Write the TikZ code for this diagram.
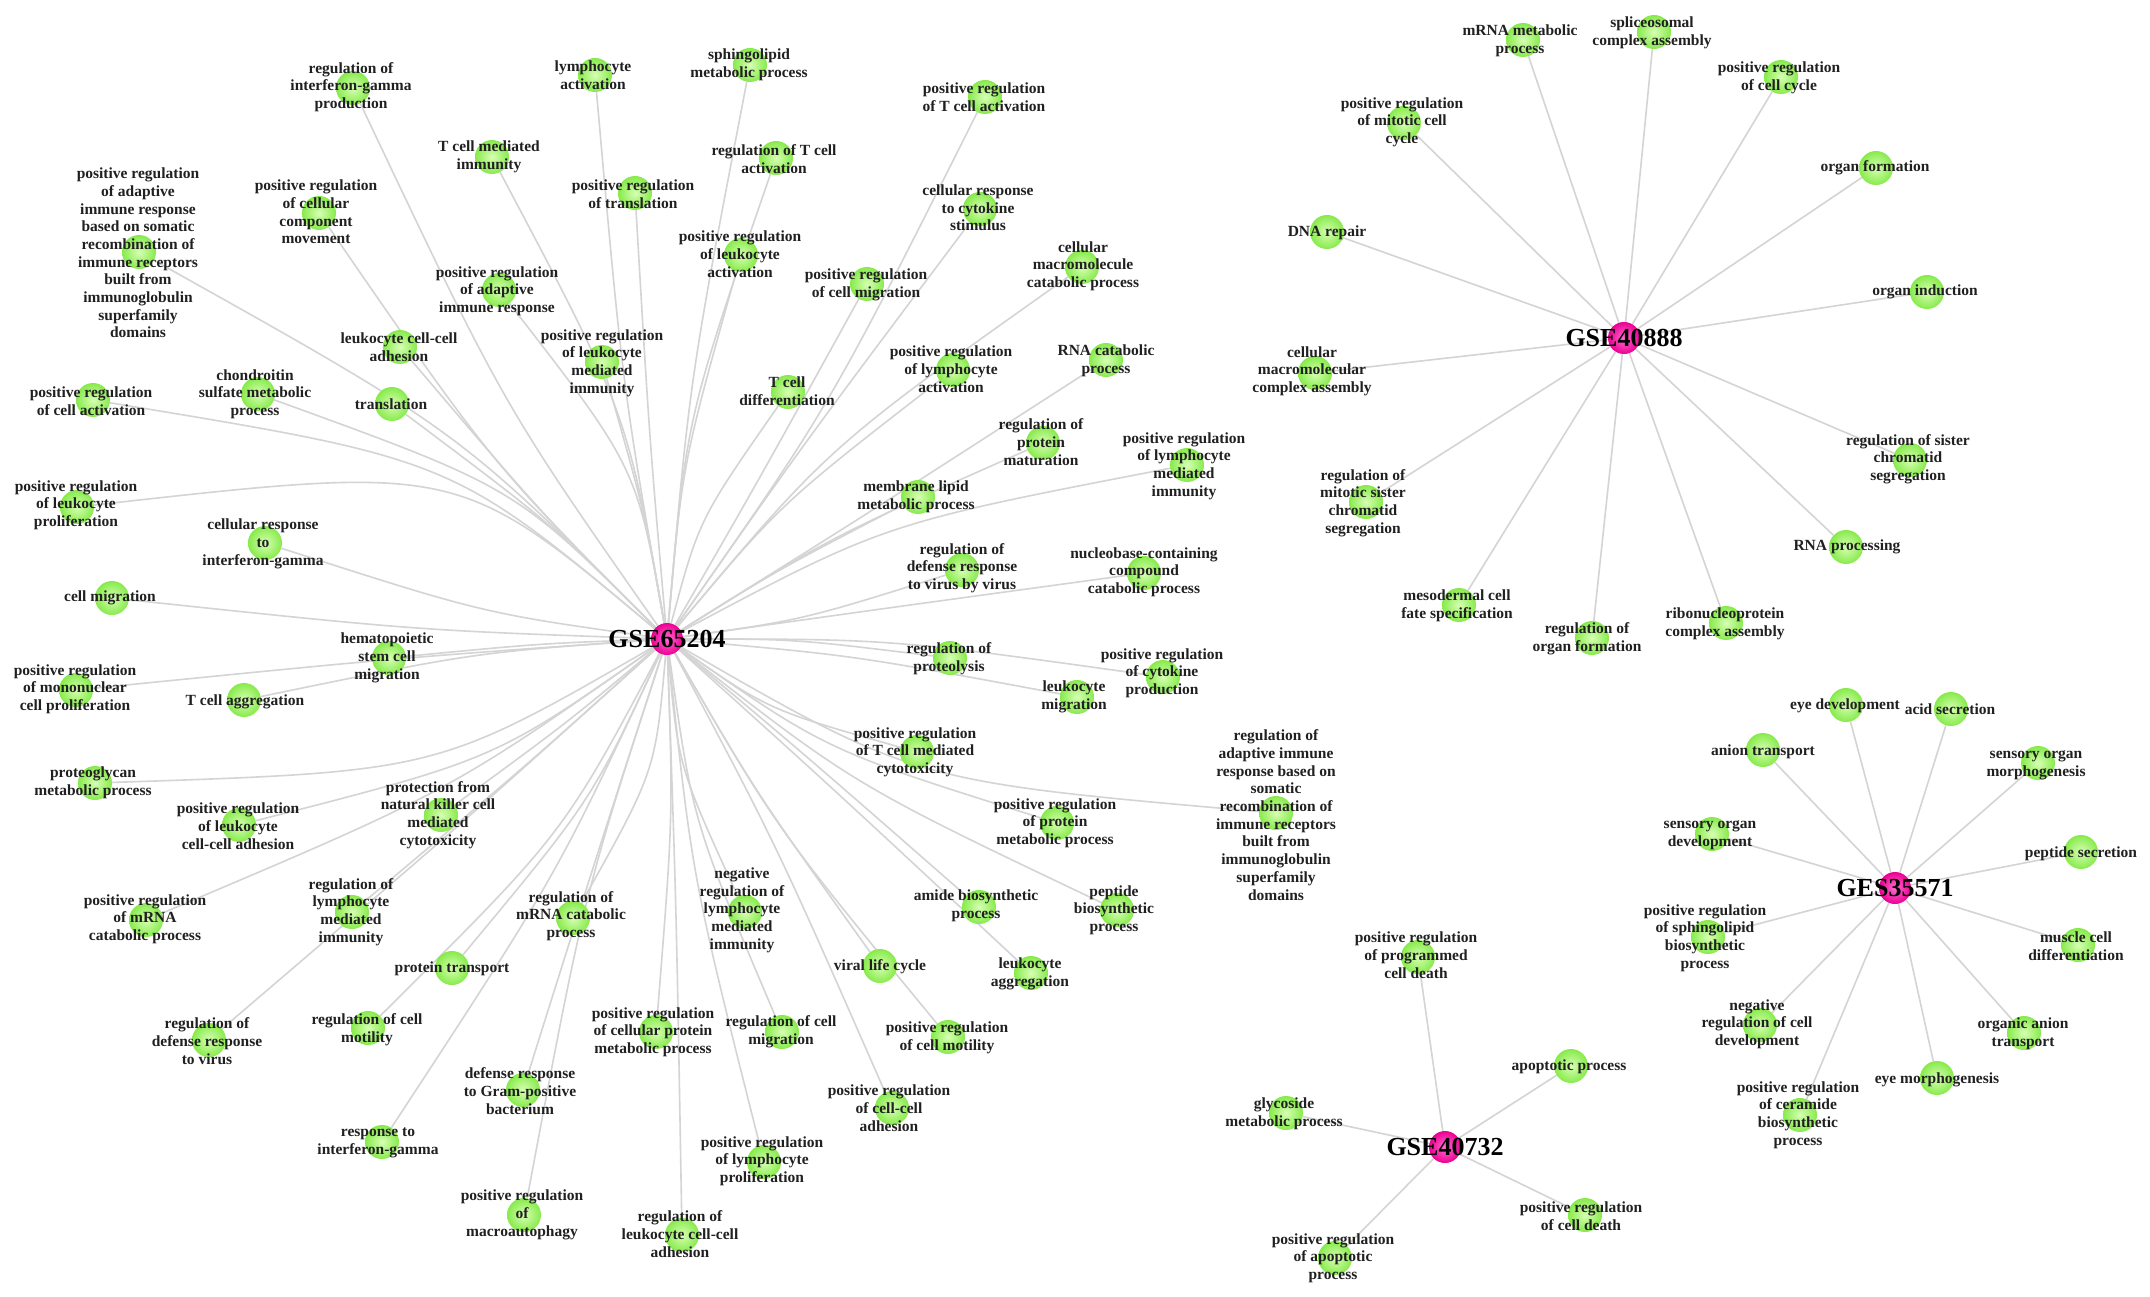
\documentclass[tikz,border=0pt]{standalone}
\usepackage{fontspec}
\setmainfont{Liberation Serif}
\usetikzlibrary{calc}
\pgfdeclarelayer{background}
\pgfdeclarelayer{foreground}
\pgfsetlayers{background,main,foreground}
\definecolor{edgec}{RGB}{212,212,212}
\definecolor{txtc}{RGB}{32,32,32}
\definecolor{gin}{RGB}{215,255,180}
\definecolor{gout}{RGB}{135,234,75}
\definecolor{pin}{RGB}{255,110,210}
\definecolor{pout}{RGB}{235,0,145}
\tikzset{
 term/.style={circle, minimum size=34pt, inner sep=0pt, draw=none, inner color=gin, outer color=gout},
 hubnode/.style={circle, minimum size=32pt, inner sep=0pt, draw=none, inner color=pin, outer color=pout},
 lab/.style={align=center, inner sep=0pt, text=txtc, font=\fontsize{15.5}{17.7}\selectfont\bfseries},
 hublab/.style={inner sep=0pt, text=black, font=\fontsize{26}{30}\selectfont\bfseries},
 gline/.style={draw=edgec, line width=1.6pt}
}
\newcommand\goterm[6]{\node[term] (#1) at (#2,#3) {};
 \begin{pgfonlayer}{foreground}\node[lab] (#1-t) at (#4,#5) {#6};\end{pgfonlayer}}
\newcommand\gohub[4]{\node[hubnode] (#1) at (#2,#3) {};
 \begin{pgfonlayer}{foreground}\node[hublab] (#1-t) at (#2,#3) {#4};\end{pgfonlayer}}
\begin{document}
\begin{tikzpicture}[x=1pt,y=-1pt]
\useasboundingbox (0,0) rectangle (2150,1297);
% hubs
\gohub{H1}{667}{639}{GSE65204}
\gohub{H2}{1624}{338}{GSE40888}
\gohub{H3}{1895}{888}{GES35571}
\gohub{H4}{1445}{1147}{GSE40732}
% GSE65204 terms
\goterm{ifng}{353}{88}{351}{87}{regulation of\\interferon-gamma\\production}
\goterm{lymact}{595}{75}{593}{75}{lymphocyte\\activation}
\goterm{sphingo}{750}{65}{749}{65}{sphingolipid\\metabolic process}
\goterm{prTact}{985}{97}{984}{97}{positive regulation\\of T cell activation}
\goterm{Tmed}{492}{157}{489}{157}{T cell mediated\\immunity}
\goterm{regTact}{776}{158}{774}{159}{regulation of T cell\\activation}
\goterm{pradsom}{139}{252}{138}{253}{positive regulation\\of adaptive\\immune response\\based on somatic\\recombination of\\immune receptors\\built from\\immunoglobulin\\superfamily\\domains}
\goterm{prccm}{319}{213}{316}{212}{positive regulation\\of cellular\\component\\movement}
\goterm{prtransl}{635}{193}{633}{194}{positive regulation\\of translation}
\goterm{cytostim}{980}{209}{978}{208}{cellular response\\to cytokine\\stimulus}
\goterm{prleukact}{741}{255}{740}{254}{positive regulation\\of leukocyte\\activation}
\goterm{macrocat}{1082}{267}{1083}{266}{cellular\\macromolecule\\catabolic process}
\goterm{prcellmig}{867}{284}{866}{285}{positive regulation\\of cell migration}
\goterm{pradapt}{499}{290}{497}{291}{positive regulation\\of adaptive\\immune response}
\goterm{leukcc}{400}{347}{399}{347}{leukocyte cell-cell\\adhesion}
\goterm{prleukmed}{602}{362}{602}{363}{positive regulation\\of leukocyte\\mediated\\immunity}
\goterm{prlymact}{953}{370}{951}{369}{positive regulation\\of lymphocyte\\activation}
\goterm{rnacat}{1106}{360}{1106}{361}{RNA catabolic\\process}
\goterm{prcellact}{93}{400}{91}{401}{positive regulation\\of cell activation}
\goterm{chondro}{258}{394}{255}{394}{chondroitin\\sulfate metabolic\\process}
\goterm{transl}{392}{404}{391}{404}{translation}
\goterm{Tdiff}{788}{392}{787}{391}{T cell\\differentiation}
\goterm{protmat}{1043}{443}{1041}{442}{regulation of\\protein\\maturation}
\goterm{prlymmed}{1187}{465}{1184}{466}{positive regulation\\of lymphocyte\\mediated\\immunity}
\goterm{prleukprol}{77}{507}{76}{505}{positive regulation\\of leukocyte\\proliferation}
\goterm{memlipid}{918}{497}{916}{497}{membrane lipid\\metabolic process}
\goterm{crifng}{265}{543}{263}{544}{cellular response\\to\\interferon-gamma}
\goterm{defvv}{962}{570}{962}{568}{regulation of\\defense response\\to virus by virus}
\goterm{nucleo}{1144}{573}{1144}{572}{nucleobase-containing\\compound\\catabolic process}
\goterm{cellmig}{112}{598}{110}{598}{cell migration}
\goterm{hemato}{389}{658}{387}{658}{hematopoietic\\stem cell\\migration}
\goterm{proteol}{950}{658}{949}{659}{regulation of\\proteolysis}
\goterm{prcyto}{1163}{677}{1162}{673}{positive regulation\\of cytokine\\production}
\goterm{prmono}{76}{690}{75}{689}{positive regulation\\of mononuclear\\cell proliferation}
\goterm{Tagg}{244}{700}{245}{702}{T cell aggregation}
\goterm{leukmig}{1077}{697}{1074}{697}{leukocyte\\migration}
\goterm{prTcyto}{917}{752}{915}{752}{positive regulation\\of T cell mediated\\cytotoxicity}
\goterm{regadsom}{1276}{813}{1276}{815}{regulation of\\adaptive immune\\response based on\\somatic\\recombination of\\immune receptors\\built from\\immunoglobulin\\superfamily\\domains}
\goterm{proteogly}{95}{783}{93}{783}{proteoglycan\\metabolic process}
\goterm{nkprot}{441}{815}{438}{815}{protection from\\natural killer cell\\mediated\\cytotoxicity}
\goterm{prleukcc}{239}{825}{238}{826}{positive regulation\\of leukocyte\\cell-cell adhesion}
\goterm{prprotmet}{1057}{823}{1055}{823}{positive regulation\\of protein\\metabolic process}
\goterm{prmrnacat}{146}{920}{145}{919}{positive regulation\\of mRNA\\catabolic process}
\goterm{reglymmed}{352}{912}{351}{912}{regulation of\\lymphocyte\\mediated\\immunity}
\goterm{regmrnacat}{573}{918}{571}{916}{regulation of\\mRNA catabolic\\process}
\goterm{neglymmed}{745}{912}{742}{910}{negative\\regulation of\\lymphocyte\\mediated\\immunity}
\goterm{amide}{979}{907}{976}{906}{amide biosynthetic\\process}
\goterm{peptbio}{1117}{910}{1114}{910}{peptide\\biosynthetic\\process}
\goterm{prottr}{452}{968}{452}{969}{protein transport}
\goterm{viral}{880}{966}{880}{967}{viral life cycle}
\goterm{leukagg}{1031}{973}{1030}{974}{leukocyte\\aggregation}
\goterm{regdefvir}{209}{1040}{207}{1041}{regulation of\\defense response\\to virus}
\goterm{regcellmot}{368}{1028}{367}{1030}{regulation of cell\\motility}
\goterm{prcellprot}{656}{1032}{653}{1032}{positive regulation\\of cellular protein\\metabolic process}
\goterm{regcellmig}{782}{1032}{781}{1032}{regulation of cell\\migration}
\goterm{prcellmot}{948}{1037}{947}{1038}{positive regulation\\of cell motility}
\goterm{gram}{523}{1090}{520}{1091}{defense response\\to Gram-positive\\bacterium}
\goterm{prcellcell}{892}{1108}{889}{1108}{positive regulation\\of cell-cell\\adhesion}
\goterm{respifng}{382}{1142}{378}{1143}{response to\\interferon-gamma}
\goterm{prlymprol}{764}{1162}{762}{1161}{positive regulation\\of lymphocyte\\proliferation}
\goterm{macroauto}{524}{1215}{522}{1215}{positive regulation\\of\\macroautophagy}
\goterm{regleukcc}{682}{1235}{680}{1234}{regulation of\\leukocyte cell-cell\\adhesion}
% GSE40888 terms
\goterm{mrnamet}{1523}{40}{1520}{41}{mRNA metabolic\\process}
\goterm{splice}{1654}{32}{1652}{33}{spliceosomal\\complex assembly}
\goterm{prcellcyc}{1781}{77}{1779}{78}{positive regulation\\of cell cycle}
\goterm{prmitotic}{1404}{123}{1402}{122}{positive regulation\\of mitotic cell\\cycle}
\goterm{organform}{1876}{168}{1875}{168}{organ formation}
\goterm{dnarep}{1327}{232}{1327}{233}{DNA repair}
\goterm{organind}{1927}{292}{1925}{292}{organ induction}
\goterm{cmca}{1315}{373}{1312}{371}{cellular\\macromolecular\\complex assembly}
\goterm{regsister}{1910}{460}{1908}{459}{regulation of sister\\chromatid\\segregation}
\goterm{regmitsis}{1366}{502}{1363}{503}{regulation of\\mitotic sister\\chromatid\\segregation}
\goterm{rnaproc}{1846}{547}{1847}{547}{RNA processing}
\goterm{mesoderm}{1459}{605}{1457}{606}{mesodermal cell\\fate specification}
\goterm{ribonuc}{1726}{623}{1725}{624}{ribonucleoprotein\\complex assembly}
\goterm{regorgan}{1592}{638}{1587}{639}{regulation of\\organ formation}
% GES35571 terms
\goterm{eyedev}{1846}{705}{1845}{706}{eye development}
\goterm{acidsec}{1951}{709}{1950}{709}{acid secretion}
\goterm{aniontr}{1763}{750}{1763}{752}{anion transport}
\goterm{sensmorph}{2038}{763}{2036}{765}{sensory organ\\morphogenesis}
\goterm{sensdev}{1712}{834}{1710}{835}{sensory organ\\development}
\goterm{peptsec}{2081}{852}{2081}{854}{peptide secretion}
\goterm{prsphbio}{1708}{937}{1705}{938}{positive regulation\\of sphingolipid\\biosynthetic\\process}
\goterm{muscle}{2078}{945}{2076}{946}{muscle cell\\differentiation}
\goterm{negcelldev}{1760}{1025}{1757}{1024}{negative\\regulation of cell\\development}
\goterm{organanion}{2024}{1033}{2023}{1034}{organic anion\\transport}
\goterm{eyemorph}{1937}{1078}{1937}{1080}{eye morphogenesis}
\goterm{prceramide}{1800}{1115}{1798}{1115}{positive regulation\\of ceramide\\biosynthetic\\process}
% GSE40732 terms
\goterm{prprogdeath}{1418}{957}{1416}{955}{positive regulation\\of programmed\\cell death}
\goterm{apopt}{1571}{1066}{1569}{1067}{apoptotic process}
\goterm{glycoside}{1286}{1113}{1284}{1114}{glycoside\\metabolic process}
\goterm{prcelldeath}{1585}{1215}{1581}{1216}{positive regulation\\of cell death}
\goterm{prapopt}{1335}{1258}{1333}{1258}{positive regulation\\of apoptotic\\process}
% edges and background
\begin{pgfonlayer}{background}
\fill[white] (0,0) rectangle (2150,1297);
\foreach \tgt/\ang in {ifng/125,pradsom/135,prccm/135,leukcc/135,chondro/135,transl/135,prcellact/140,prleukprol/140,
  Tmed/100,lymact/100,pradapt/100,prleukmed/100,prtransl/95,sphingo/85,regTact/85,prleukact/85,Tdiff/75,
  prTact/55,cytostim/55,prcellmig/60,prlymact/50,macrocat/50,
  rnacat/32,protmat/32,prlymmed/28,memlipid/32,
  defvv/8,nucleo/8,proteol/0,prcyto/0,leukmig/-5,
  prTcyto/-35,regadsom/-30,prprotmet/-35,amide/-40,peptbio/-38,leukagg/-42,
  viral/-60,prcellmot/-60,prcellcell/-62,
  regmrnacat/-95,neglymmed/-85,prcellprot/-88,regcellmig/-82,prlymprol/-84,regleukcc/-88,
  nkprot/-140,prleukcc/-145,proteogly/-150,prmrnacat/-145,reglymmed/-138,regdefvir/-138,
  regcellmot/-118,prottr/-115,respifng/-115,gram/-108,macroauto/-108,
  crifng/172,cellmig/178,hemato/-178,prmono/-176,Tagg/-176}
  \draw[gline] let \p1=($(\tgt)-(H1)$), \n1={veclen(\x1,\y1)} in
    (H1) .. controls ($(H1)+(\ang:0.45*\n1)$) .. (\tgt);
\foreach \tgt in {mrnamet,splice,prcellcyc,prmitotic,organform,dnarep,organind,cmca,regsister,regmitsis,rnaproc,mesoderm,ribonuc,regorgan}
  \draw[gline] (H2) -- (\tgt);
\foreach \tgt in {eyedev,acidsec,aniontr,sensmorph,sensdev,peptsec,prsphbio,muscle,negcelldev,organanion,eyemorph,prceramide}
  \draw[gline] (H3) -- (\tgt);
\foreach \tgt in {prprogdeath,apopt,glycoside,prcelldeath,prapopt}
  \draw[gline] (H4) -- (\tgt);
\end{pgfonlayer}
\end{tikzpicture}
\end{document}
